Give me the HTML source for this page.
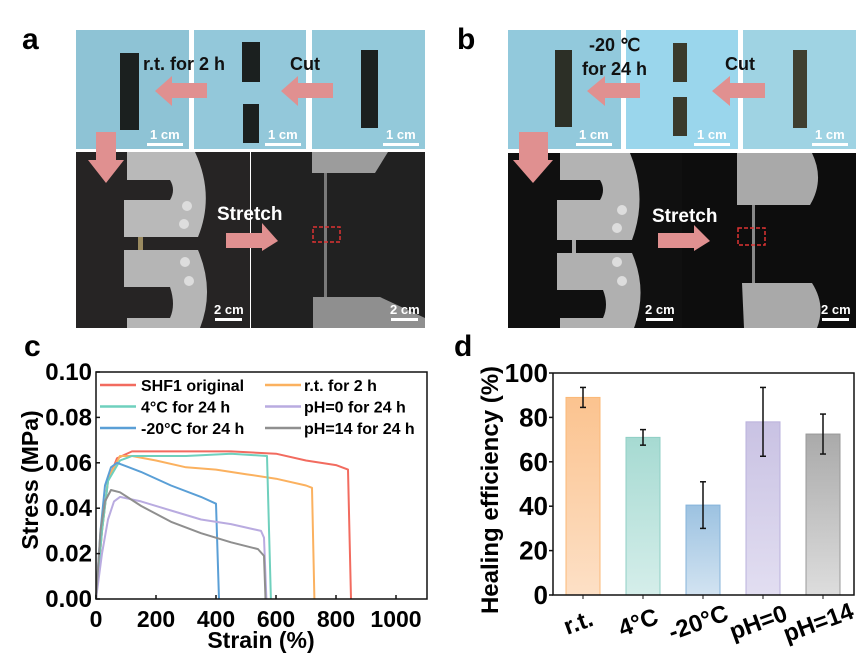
<!DOCTYPE html>
<html><head><meta charset="utf-8"><style>
html,body{margin:0;padding:0;background:#fff;}
svg{display:block;font-family:"Liberation Sans",Arial,sans-serif;}
</style></head><body>
<svg id="fig" width="865" height="654" viewBox="0 0 865 654" xmlns="http://www.w3.org/2000/svg">
<defs>
<linearGradient id="g0" x1="0" y1="0" x2="0" y2="1"><stop offset="0" stop-color="#fbc38f"/><stop offset="1" stop-color="#fde0c6"/></linearGradient>
<linearGradient id="g1" x1="0" y1="0" x2="0" y2="1"><stop offset="0" stop-color="#a6dad2"/><stop offset="1" stop-color="#d5eeea"/></linearGradient>
<linearGradient id="g2" x1="0" y1="0" x2="0" y2="1"><stop offset="0" stop-color="#9cc2e1"/><stop offset="1" stop-color="#d2e3f1"/></linearGradient>
<linearGradient id="g3" x1="0" y1="0" x2="0" y2="1"><stop offset="0" stop-color="#c9c2e3"/><stop offset="1" stop-color="#e2def1"/></linearGradient>
<linearGradient id="g4" x1="0" y1="0" x2="0" y2="1"><stop offset="0" stop-color="#aaaaaa"/><stop offset="1" stop-color="#dddddd"/></linearGradient>
</defs>

<!-- PANEL A -->
<g font-weight="bold">
<text x="22" y="49" font-size="30">a</text>
<rect x="76" y="30" width="113" height="119" fill="#8ec3d5"/>
<rect x="194" y="30" width="112" height="119" fill="#93c8da"/>
<rect x="312" y="30" width="113" height="119" fill="#93c9da"/>
<rect x="120" y="53" width="19" height="77" fill="#1b201f"/>
<rect x="242" y="42" width="18" height="40" fill="#1b201f"/>
<rect x="243" y="104" width="16" height="39" fill="#1b201f"/>
<rect x="361" y="50" width="17" height="78" fill="#1b201f"/>
<text x="143" y="70" font-size="18" fill="#111">r.t. for 2 h</text>
<text x="290" y="70" font-size="18" fill="#111">Cut</text>
<path d="M207,83 H172 V76 L155,91 L172,106 V98 H207 Z" fill="#e09090"/>
<path d="M333,83 H298 V76 L281,91 L298,106 V98 H333 Z" fill="#e09090"/>
<g fill="#fff" font-size="13"><text x="150" y="139">1 cm</text><text x="268" y="139">1 cm</text><text x="386" y="139">1 cm</text></g>
<g fill="#fff"><rect x="147" y="143" width="36" height="3"/><rect x="265" y="143" width="36" height="3"/><rect x="383" y="143" width="36" height="3"/></g>
<rect x="76" y="152" width="174" height="176" fill="#262424"/>
<rect x="251" y="152" width="174" height="176" fill="#212121"/>
<path d="M127 152 H195 Q215 195 198 237 H124 V200 H170 Q176 190 170 180 H127 Z" fill="#b9b9b9"/>
<path d="M124 250 H198 Q215 290 200 328 H127 V318 H170 Q176 305 170 287 H124 Z" fill="#b5b5b5"/>
<rect x="138" y="237" width="5" height="13" fill="#9a8a60"/>
<circle cx="187" cy="206" r="5" fill="#ddd"/><circle cx="184" cy="224" r="5" fill="#ddd"/>
<circle cx="185" cy="262" r="5" fill="#ddd"/><circle cx="189" cy="281" r="5" fill="#ddd"/>
<path d="M312 152 H388 L375 173 H312 Z" fill="#9c9c9c"/>
<rect x="324" y="173" width="3" height="124" fill="#7a7a7a"/>
<path d="M313 297 H380 L425 318 V328 H313 Z" fill="#8f8f8f"/>
<rect x="313" y="227" width="27" height="15" fill="none" stroke="#d33" stroke-width="1.5" stroke-dasharray="4,2"/>
<path d="M96,132 H116 V160 H124 L106,183 L88,160 H96 Z" fill="#e09090"/>
<path d="M226,233 H262 V223 L278,241 L262,251 V248 H226 Z" fill="#e09090"/>
<text x="217" y="220" font-size="19" fill="#fff">Stretch</text>
<g fill="#fff" font-size="13"><text x="214" y="314">2 cm</text><text x="390" y="314">2 cm</text></g>
<g fill="#fff"><rect x="215" y="318" width="27" height="3"/><rect x="391" y="318" width="27" height="3"/></g>
</g>

<!-- PANEL B -->
<g font-weight="bold">
<text x="457" y="49" font-size="30">b</text>
<rect x="508" y="30" width="113" height="119" fill="#92c9dc"/>
<rect x="626" y="30" width="112" height="119" fill="#9ad6ec"/>
<rect x="743" y="30" width="113" height="119" fill="#9fd3e3"/>
<rect x="555" y="50" width="17" height="77" fill="#2c2f26"/>
<rect x="673" y="43" width="14" height="39" fill="#3a3a2c"/>
<rect x="673" y="97" width="14" height="39" fill="#3a3a2c"/>
<rect x="793" y="50" width="14" height="78" fill="#3f3f30"/>
<text x="589" y="51" font-size="18" fill="#111">-20 ℃</text>
<text x="582" y="75" font-size="18" fill="#111">for 24 h</text>
<text x="725" y="70" font-size="18" fill="#111">Cut</text>
<path d="M640,83 H605 V76 L587,91 L605,106 V98 H640 Z" fill="#e09090"/>
<path d="M765,83 H730 V76 L712,91 L730,106 V98 H765 Z" fill="#e09090"/>
<g fill="#fff" font-size="13"><text x="579" y="139">1 cm</text><text x="697" y="139">1 cm</text><text x="815" y="139">1 cm</text></g>
<g fill="#fff"><rect x="576" y="143" width="36" height="3"/><rect x="694" y="143" width="36" height="3"/><rect x="812" y="143" width="36" height="3"/></g>
<rect x="508" y="153" width="174" height="175" fill="#101010"/>
<rect x="682" y="153" width="174" height="175" fill="#0d0d0d"/>
<path d="M560 153 H630 Q648 197 632 240 H557 V200 H600 Q606 190 600 180 H560 Z" fill="#b3b3b3"/>
<path d="M557 253 H632 Q648 290 634 328 H560 V318 H603 Q609 305 603 290 H557 Z" fill="#b0b0b0"/>
<rect x="572" y="240" width="4" height="13" fill="#aaa"/>
<circle cx="622" cy="210" r="5" fill="#ddd"/><circle cx="617" cy="228" r="5" fill="#ddd"/>
<circle cx="617" cy="262" r="5" fill="#ddd"/><circle cx="622" cy="281" r="5" fill="#ddd"/>
<path d="M737 153 H812 Q825 180 810 205 H737 Z" fill="#a9a9a9"/>
<rect x="752" y="205" width="3" height="80" fill="#888"/>
<path d="M742 283 H812 Q826 305 817 328 H744 Z" fill="#a9a9a9"/>
<rect x="738" y="228" width="27" height="17" fill="none" stroke="#d33" stroke-width="1.5" stroke-dasharray="4,2"/>
<path d="M519,132 H548 V160 H553 L533,183 L513,160 H519 Z" fill="#e09090"/>
<path d="M658,233 H694 V225 L710,241 L694,251 V248 H658 Z" fill="#e09090"/>
<text x="652" y="222" font-size="19" fill="#fff">Stretch</text>
<g fill="#fff" font-size="13"><text x="645" y="314">2 cm</text><text x="821" y="314">2 cm</text></g>
<g fill="#fff"><rect x="646" y="318" width="27" height="3"/><rect x="822" y="318" width="27" height="3"/></g>
</g>

<text x="24" y="356" font-size="30" font-weight="bold">c</text>
<text x="454" y="356" font-size="30" font-weight="bold">d</text>
<g id="chartC"></g>
<g id="chartD"></g>
</svg>
<script>
const strainTicks = [0, 200, 400, 600, 800, 1000];
const stressTicks = [0, 0.02, 0.04, 0.06, 0.08, 0.10];
const seriesNames = ["SHF1 original", "r.t. for 2 h", "4°C for 24 h", "pH=0 for 24 h", "-20°C for 24 h", "pH=14 for 24 h"];
const seriesColors = ["#f26b5f", "#fbb15f", "#6fd0bd", "#b9abe0", "#5a9fd6", "#8f8f8f"];
const strainOriginal = [0, 20, 40, 70, 120, 300, 450, 600, 700, 800, 840, 850];
const stressOriginal = [0, 0.03, 0.052, 0.062, 0.065, 0.065, 0.065, 0.064, 0.061, 0.059, 0.057, 0];
const strainRT = [0, 20, 40, 80, 120, 200, 300, 400, 500, 600, 700, 720, 728];
const stressRT = [0, 0.03, 0.053, 0.063, 0.063, 0.061, 0.058, 0.057, 0.055, 0.053, 0.05, 0.049, 0];
const strain4C = [0, 20, 40, 80, 120, 300, 450, 570, 583];
const stress4C = [0, 0.03, 0.052, 0.061, 0.063, 0.063, 0.064, 0.063, 0];
const strainPH0 = [0, 20, 40, 60, 80, 150, 250, 350, 450, 550, 560, 568];
const stressPH0 = [0, 0.02, 0.035, 0.043, 0.045, 0.043, 0.039, 0.035, 0.033, 0.03, 0.027, 0];
const strainM20 = [0, 15, 30, 50, 70, 150, 250, 350, 400, 410];
const stressM20 = [0, 0.03, 0.05, 0.058, 0.06, 0.056, 0.05, 0.045, 0.042, 0];
const strainPH14 = [0, 15, 30, 50, 80, 150, 250, 350, 450, 540, 560, 565];
const stressPH14 = [0, 0.03, 0.043, 0.048, 0.047, 0.041, 0.034, 0.029, 0.025, 0.022, 0.019, 0];
const healCategories = ["r.t.", "4°C", "-20°C", "pH=0", "pH=14"];
const healValues = [89, 71, 40.5, 78, 72.5];
const healErrUp = [93.5, 74.5, 51, 93.5, 81.5];
const healErrLow = [84.5, 67.5, 30, 62.5, 63.5];
const healTicks = [0, 20, 40, 60, 80, 100];
const healBorder = ["#fbb877", "#8fcfc5", "#85b3da", "#bab1dc", "#999999"];

const NS = "http://www.w3.org/2000/svg";
function mk(tag, attrs, parent, txt) {
  const e = document.createElementNS(NS, tag);
  for (const k in attrs) e.setAttribute(k, attrs[k]);
  if (txt !== undefined) e.textContent = txt;
  parent.appendChild(e);
  return e;
}
// Chart C
const C = document.getElementById('chartC');
const cx0 = 96, cx1 = 427, cy0 = 599, cy1 = 372;
const xS = v => cx0 + v * 0.3;
const yS = v => cy0 - v / 0.1 * (cy0 - cy1);
const sets = [[strainOriginal, stressOriginal], [strainRT, stressRT], [strain4C, stress4C], [strainPH0, stressPH0], [strainM20, stressM20], [strainPH14, stressPH14]];
const drawOrder = [0, 1, 2, 4, 3, 5];
drawOrder.forEach(i => {
  const [xs, ys] = sets[i];
  const pts = xs.map((x, j) => xS(x).toFixed(1) + "," + yS(ys[j]).toFixed(1)).join(" ");
  const pl = mk('polyline', {points: pts, fill: 'none', stroke: seriesColors[i], 'stroke-width': 2, 'stroke-linejoin': 'round'}, C);
  
  
});
const boxC = mk('rect', {x: cx0, y: cy1, width: cx1 - cx0, height: cy0 - cy1, fill: 'none', stroke: '#111', 'stroke-width': 1.5}, C);


stressTicks.forEach(t => {
  mk('line', {x1: cx0, x2: cx0 + 4, y1: yS(t), y2: yS(t), stroke: '#111', 'stroke-width': 1.5}, C);
  const tl = mk('text', {x: 92, y: yS(t) + 8, 'text-anchor': 'end', 'font-size': 24, 'font-weight': 'bold'}, C, t.toFixed(2));
  
  
});
strainTicks.forEach(t => {
  mk('line', {x1: xS(t), x2: xS(t), y1: cy0, y2: cy0 - 4, stroke: '#111', 'stroke-width': 1.5}, C);
  const tl = mk('text', {x: xS(t), y: 627, 'text-anchor': 'middle', 'font-size': 23, 'font-weight': 'bold'}, C, t);
  
  
});
const xt = mk('text', {x: 261, y: 648, 'text-anchor': 'middle', 'font-size': 23, 'font-weight': 'bold'}, C, 'Strain (%)');


const yt = mk('text', {x: 0, y: 0, 'text-anchor': 'middle', 'font-size': 23, 'font-weight': 'bold', transform: 'translate(38,480) rotate(-90)'}, C, 'Stress (MPa)');


seriesNames.forEach((n, i) => {
  const col = i % 2, row = Math.floor(i / 2);
  const lx = col ? 265 : 100, tx = col ? 304 : 141, ly = 385 + row * 21.5;
  const g = mk('g', {}, C);
  
  
  mk('line', {x1: lx, x2: lx + 36, y1: ly, y2: ly, stroke: seriesColors[i], 'stroke-width': 2.5}, g);
  mk('text', {x: tx, y: ly + 6, 'font-size': 16, 'font-weight': 'bold'}, g, n);
});
// Chart D
const D = document.getElementById('chartD');
const dx0 = 553, dx1 = 854, dy0 = 595, dy1 = 373;
const yD = v => dy0 - v / 100 * (dy0 - dy1);
const xD = i => 583 + i * 60;
healValues.forEach((v, i) => {
  const b = mk('rect', {x: xD(i) - 17, y: yD(v), width: 34, height: dy0 - yD(v), fill: 'url(#g' + i + ')', stroke: healBorder[i], 'stroke-width': 1}, D);
  
  
  const e = mk('g', {stroke: '#111', 'stroke-width': 1.5}, D);
  
  
  mk('line', {x1: xD(i), x2: xD(i), y1: yD(healErrUp[i]), y2: yD(healErrLow[i])}, e);
  mk('line', {x1: xD(i) - 3, x2: xD(i) + 3, y1: yD(healErrUp[i]), y2: yD(healErrUp[i])}, e);
  mk('line', {x1: xD(i) - 3, x2: xD(i) + 3, y1: yD(healErrLow[i]), y2: yD(healErrLow[i])}, e);
  mk('line', {x1: xD(i), x2: xD(i), y1: dy0, y2: dy0 + 4}, D).setAttribute('stroke', '#111');
  const tl = mk('text', {x: 0, y: 0, 'text-anchor': 'middle', 'font-size': 24, 'font-weight': 'bold', transform: 'translate(' + (xD(i) - 2) + ',630) rotate(-20)'}, D, healCategories[i]);
  
  
});
const boxD = mk('polyline', {points: dx0 + ',' + dy1 + ' ' + dx0 + ',' + dy0 + ' ' + dx1 + ',' + dy0 + ' ' + dx1 + ',' + dy1 + ' ' + dx0 + ',' + dy1, fill: 'none', stroke: '#111', 'stroke-width': 1.5}, D);


healTicks.forEach(t => {
  mk('line', {x1: dx0, x2: dx0 - 4, y1: yD(t), y2: yD(t), stroke: '#111', 'stroke-width': 1.5}, D);
  const tl = mk('text', {x: 548, y: yD(t) + 9, 'text-anchor': 'end', 'font-size': 26, 'font-weight': 'bold'}, D, t);
  
  
});
const ytd = mk('text', {x: 0, y: 0, 'text-anchor': 'middle', 'font-size': 24, 'font-weight': 'bold', transform: 'translate(498,490) rotate(-90)'}, D, 'Healing efficiency (%)');


</script>
</body></html>
